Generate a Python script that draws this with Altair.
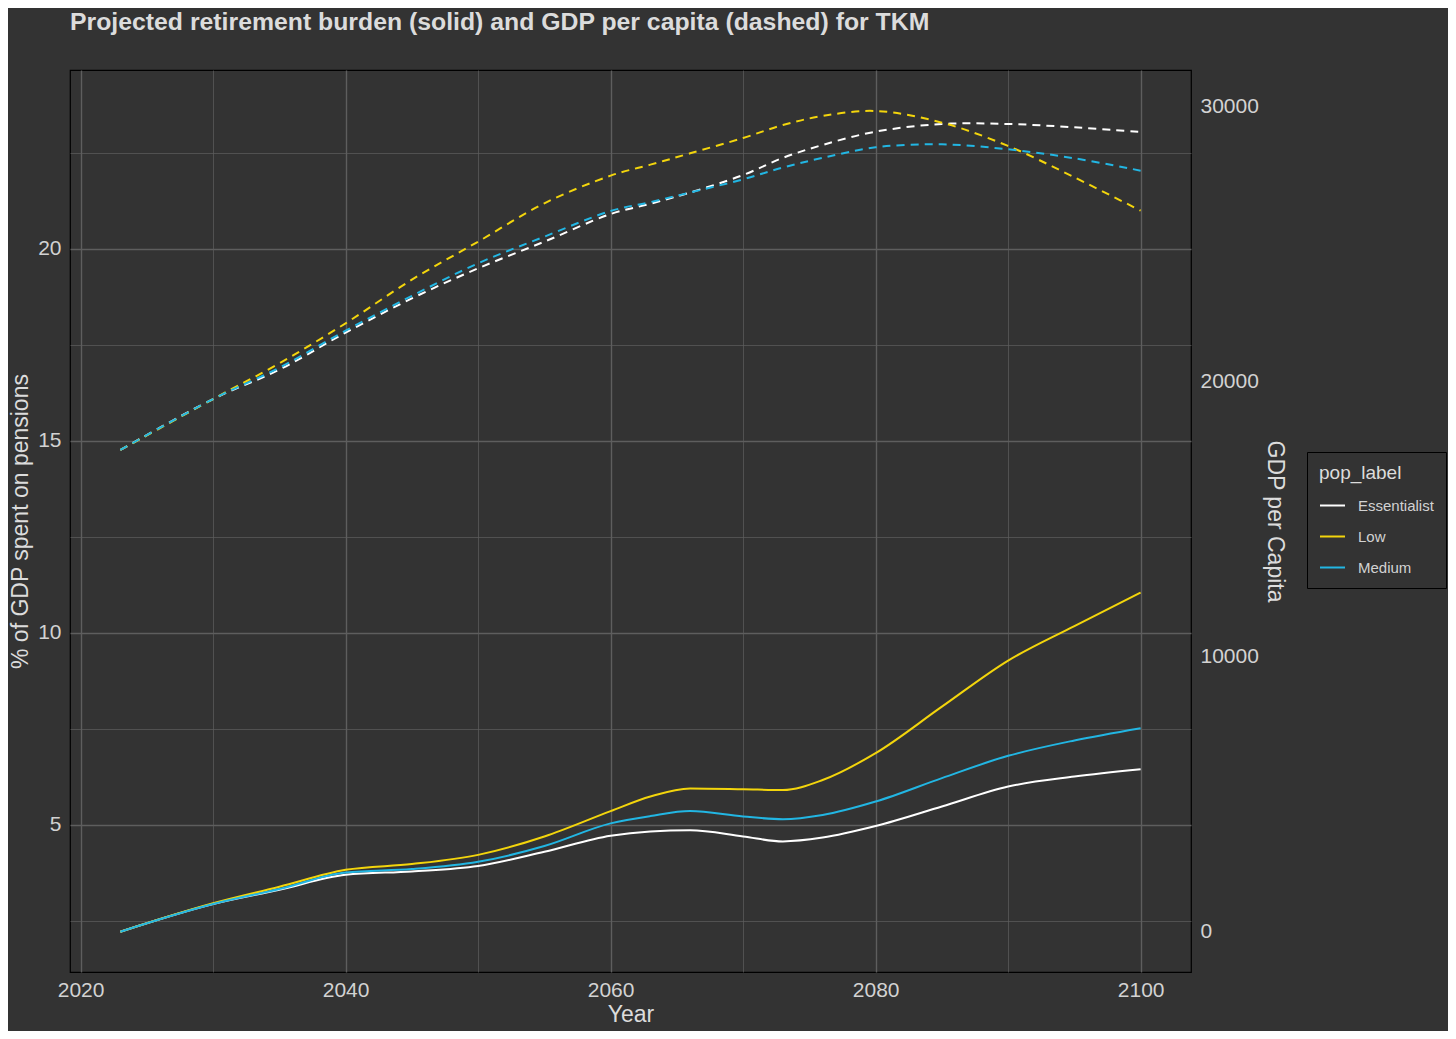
import altair as alt
import pandas as pd

years = [2023, 2030, 2035, 2040, 2045, 2050, 2055, 2060, 2063, 2066, 2070, 2073, 2076, 2080, 2085, 2090, 2095, 2100]
labels = ["Essentialist", "Low", "Medium"]

pension_ess = [2.22, 2.94, 3.31, 3.70, 3.79, 3.93, 4.30, 4.72, 4.83, 4.86, 4.70, 4.57, 4.67, 4.97, 5.48, 6.00, 6.26, 6.45]
pension_low = [2.22, 2.96, 3.39, 3.83, 3.98, 4.22, 4.70, 5.36, 5.74, 5.95, 5.93, 5.91, 6.17, 6.87, 8.08, 9.28, 10.18, 11.05]
pension_med = [2.22, 2.94, 3.33, 3.76, 3.85, 4.04, 4.45, 5.04, 5.23, 5.36, 5.22, 5.15, 5.26, 5.61, 6.22, 6.80, 7.20, 7.52]

gdp_ess = [17527, 19380, 20450, 21794, 23040, 24133, 25103, 26109, 26480, 26890, 27527, 28150, 28620, 29103, 29382, 29382, 29261, 29091]
gdp_low = [17527, 19380, 20680, 22134, 23720, 25103, 26497, 27503, 27903, 28315, 28873, 29345, 29673, 29855, 29430, 28582, 27442, 26230]
gdp_med = [17527, 19380, 20520, 21866, 23130, 24315, 25285, 26218, 26540, 26890, 27370, 27800, 28150, 28533, 28642, 28461, 28134, 27685]

colors = ["#ffffff", "#f3d50c", "#22b6e3"]

rows = []
for lab, pen, gdp in zip(labels, [pension_ess, pension_low, pension_med], [gdp_ess, gdp_low, gdp_med]):
    for y, p, g in zip(years, pen, gdp):
        rows.append({"Year": y, "pop_label": lab, "pension": p, "gdp": g})
df = pd.DataFrame(rows)

FONT = "Liberation Sans"
LABEL_C = "#d2d2d2"
TITLE_C = "#dcdcdc"
GRID_C = "#5e5e5e"

x_enc = alt.X(
    "Year:Q",
    scale=alt.Scale(domain=[2019.2, 2103.8], nice=False, zero=False),
    axis=alt.Axis(
        title="Year",
        values=[2020, 2030, 2040, 2050, 2060, 2070, 2080, 2090, 2100],
        labelExpr="datum.value % 20 === 0 ? datum.label : ''",
        format="d",
        grid=True,
        gridColor=GRID_C,
        gridWidth={"condition": {"test": "datum.value % 20 === 0", "value": 1.4}, "value": 0.7},
        ticks=False,
        domain=False,
        labelPadding=7,
        titlePadding=3,
        labelFontSize=21,
        titleFontSize=23,
        titleFontWeight="normal",
        labelColor=LABEL_C,
        titleColor=TITLE_C,
        labelFont=FONT,
        titleFont=FONT,
    ),
)

color_enc = alt.Color(
    "pop_label:N",
    scale=alt.Scale(domain=labels, range=colors),
    legend=alt.Legend(
        title="pop_label",
        orient="none",
        legendX=1237,
        legendY=382,
        direction="vertical",
        strokeColor="black",
        fillColor="#333333",
        padding=12,
        symbolType="stroke",
        symbolSize=625,
        symbolStrokeWidth=2,
        labelOffset=12,
        rowPadding=9,
        titlePadding=9,
        labelFontSize=15,
        titleFontSize=19,
        titleFontWeight="normal",
        labelColor=LABEL_C,
        titleColor=TITLE_C,
        labelFont=FONT,
        titleFont=FONT,
    ),
)

solid = alt.Chart(df).mark_line(strokeWidth=2, interpolate="monotone").encode(
    x=x_enc,
    y=alt.Y(
        "pension:Q",
        scale=alt.Scale(domain=[1.17, 24.66], nice=False, zero=False),
        axis=alt.Axis(
            title="% of GDP spent on pensions",
            orient="left",
            values=[2.5, 5, 7.5, 10, 12.5, 15, 17.5, 20, 22.5],
            labelExpr="datum.value % 5 === 0 ? datum.label : ''",
            grid=True,
            gridColor=GRID_C,
            gridWidth={"condition": {"test": "datum.value % 5 === 0", "value": 1.4}, "value": 0.7},
            ticks=False,
            domain=False,
            labelPadding=9,
            titlePadding=5,
            labelFontSize=21,
            titleFontSize=23,
            titleFontWeight="normal",
            labelColor=LABEL_C,
            titleColor=TITLE_C,
            labelFont=FONT,
            titleFont=FONT,
        ),
    ),
    color=color_enc,
)

dashed = alt.Chart(df).mark_line(strokeWidth=2, strokeDash=[8, 6], interpolate="catmull-rom").encode(
    x=x_enc,
    y=alt.Y(
        "gdp:Q",
        scale=alt.Scale(domain=[-1455, 31345], nice=False, zero=False),
        axis=alt.Axis(
            title="GDP per Capita",
            orient="right",
            values=[0, 10000, 20000, 30000],
            format="d",
            grid=False,
            ticks=False,
            domain=False,
            labelPadding=9,
            titlePadding=4,
            labelFontSize=21,
            titleFontSize=23,
            titleFontWeight="normal",
            labelColor=LABEL_C,
            titleColor=TITLE_C,
            labelFont=FONT,
            titleFont=FONT,
        ),
    ),
    color=color_enc,
)

chart = (
    alt.layer(solid, dashed)
    .resolve_scale(y="independent")
    .properties(
        width=1121,
        height=902,
        autosize=alt.AutoSizeParams(type="none"),
        padding={"left": 62, "top": 62, "right": 257, "bottom": 59},
        background="#333333",
        title=alt.TitleParams(
            text="Projected retirement burden (solid) and GDP per capita (dashed) for TKM",
            anchor="start",
            frame="group",
            fontSize=24.8,
            fontWeight="bold",
            font=FONT,
            color=TITLE_C,
            baseline="alphabetic",
            offset=15,
        ),
    )
    .configure_view(stroke="black", strokeWidth=1.2, fill="#333333")
)

chart.save("out.html", embed_options={"renderer": "svg", "actions": False})
